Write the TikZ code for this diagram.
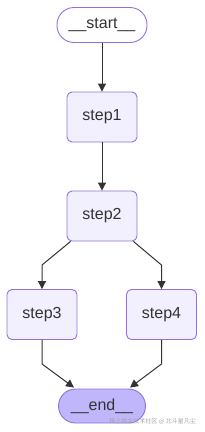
\documentclass[tikz,border=0pt]{standalone}
\usepackage{fontspec}
\setmainfont{Liberation Sans}
\newfontfamily\cjk{Noto Sans CJK SC}
\usetikzlibrary{arrows.meta,positioning}
\definecolor{nodefill}{HTML}{F2F0FF}
\definecolor{nodeline}{HTML}{9370DB}
\definecolor{endfill}{HTML}{BFB6FC}
\definecolor{txt}{HTML}{333333}
\definecolor{edge}{HTML}{333333}
\tikzset{
  stepbox/.style={draw=nodeline, fill=nodefill, line width=0.9pt, rounded corners=5pt,
    minimum width=70pt, minimum height=50pt, inner sep=0pt, text=txt, font=\fontsize{16}{18}\selectfont},
  termbox/.style={draw=nodeline, line width=0.9pt, rounded corners=17pt,
    minimum width=90pt, minimum height=35pt, inner sep=0pt, text=txt, font=\fontsize{16}{18}\selectfont},
  conn/.style={draw=edge, line width=1pt, -{Triangle[length=8pt,width=8pt]}}
}
\begin{document}
\begin{tikzpicture}[x=1pt,y=-1pt]
\useasboundingbox (0,0) rectangle (204,432);
\node[termbox, fill=white] (start) at (102,25) {\_\_start\_\_};
\node[stepbox] (step1) at (102,117) {step1};
\node[stepbox] (step2) at (102,216) {step2};
\node[stepbox] (step3) at (42,314.5) {step3};
\node[stepbox] (step4) at (161.5,314.5) {step4};
\node[termbox, fill=endfill, minimum width=87pt, minimum height=34pt] (end) at (102,406) {\_\_end\_\_};
\coordinate (b3) at (42,265);
\coordinate (b4) at (161.5,265);
\coordinate (c3) at (42,364);
\coordinate (c4) at (161.5,364);
\draw[conn] (start) -- (step1);
\draw[conn] (step1) -- (step2);
\draw[conn] ([xshift=4pt]step2.south west) -- (b3) -- (step3.north);
\draw[conn] ([xshift=-4pt]step2.south east) -- (b4) -- (step4.north);
\draw[conn] (step3.south) -- (c3) -- ([xshift=-28pt,yshift=1pt]end.north);
\draw[conn] (step4.south) -- (c4) -- ([xshift=28pt,yshift=1pt]end.north);
\node[font=\cjk\fontsize{6}{7}\selectfont, text=gray!70, anchor=east, inner sep=0pt] (wm) at (196,421) {稀土掘金技术社区 @ 北斗星凡尘};
\end{tikzpicture}
\end{document}
